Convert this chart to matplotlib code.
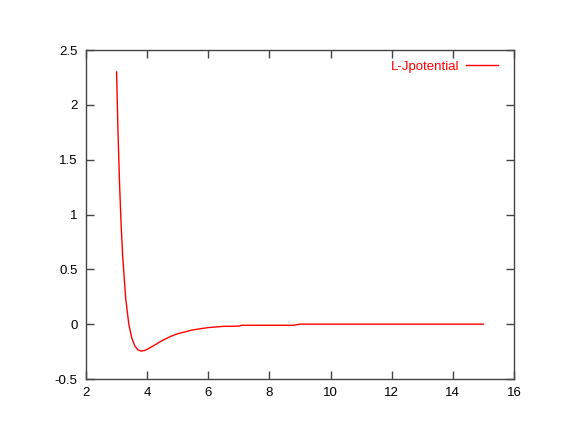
import matplotlib
matplotlib.use("Agg")
import matplotlib.pyplot as plt

plt.rcParams['font.family'] = ['Liberation Sans', 'DejaVu Sans']

# Values (Lennard-Jones potential curve)
r_values = [3.0, 3.05, 3.1, 3.15, 3.2, 3.3, 3.4, 3.5, 3.6, 3.7, 3.8, 3.9, 4.0,
            4.2, 4.4, 4.6, 4.8, 5.0, 5.5, 6.0, 6.5, 7.0, 7.1,
            8.8, 9.0, 10.0, 12.0, 15.0]
v_values = [2.30, 1.72, 1.26, 0.90, 0.62, 0.23, 0.00, -0.13, -0.20, -0.235, -0.245, -0.241, -0.23,
            -0.198, -0.164, -0.134, -0.108, -0.087, -0.052, -0.031, -0.02, -0.018, -0.01,
            -0.01, 0.0, 0.0, 0.0, 0.0]
series_label = "L-Jpotential"
x_ticks = [2, 4, 6, 8, 10, 12, 14, 16]
y_ticks = [-0.5, 0, 0.5, 1, 1.5, 2, 2.5]
y_tick_labels = ["-0.5", "0", "0.5", "1", "1.5", "2", "2.5"]

fig = plt.figure(figsize=(5.72, 4.47), dpi=100)
ax = fig.add_axes([86/572, (447-379)/447, (514-86)/572, (379-50)/447])

ax.plot(r_values, v_values, color='#ff0000', linewidth=1.0, label=series_label)

ax.set_xlim(2, 16)
ax.set_ylim(-0.5, 2.5)
ax.set_xticks(x_ticks)
ax.set_xticklabels([str(t) for t in x_ticks])
ax.set_yticks(y_ticks)
ax.set_yticklabels(y_tick_labels)

for s in ax.spines.values():
    s.set_color('#444444')
    s.set_linewidth(1.0)
ax.tick_params(direction='in', length=6, width=1, color='#444444',
               top=True, right=True, labelsize=9.5, labelcolor='black', pad=6)

leg = ax.legend(loc='upper right', bbox_to_anchor=(0.975, 0.984), frameon=False,
                borderaxespad=0, markerfirst=False, handlelength=2.4,
                handletextpad=0.55, fontsize=9.5, labelcolor='#ff0000')

fig.savefig('out.png', dpi=100)
